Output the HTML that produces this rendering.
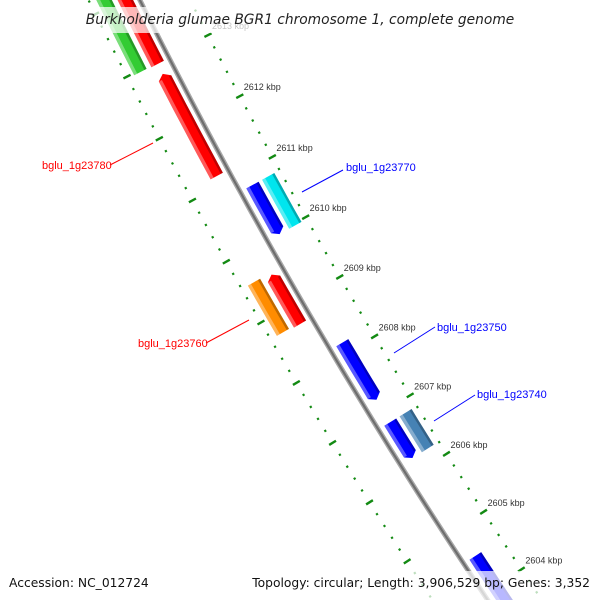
<!DOCTYPE html>
<html><head><meta charset="utf-8"><style>
html,body{margin:0;padding:0;background:#fff;width:600px;height:600px;overflow:hidden;}
svg{display:block;font-family:"Liberation Sans",sans-serif;overflow:hidden;}
</style></head><body>
<svg id="map" width="600" height="600" viewBox="0 0 600 600">
<g id="ruler"></g>
<g id="backbone"></g>
<g id="features"></g>
<g id="labels"></g>
<g font-size="11">
<line x1="110" y1="165" x2="153" y2="143" stroke="#f00"/>
<text x="42" y="169" fill="#f00">bglu_1g23780</text>
<line x1="302" y1="192" x2="343" y2="170" stroke="#00f"/>
<text x="346" y="171" fill="#00f">bglu_1g23770</text>
<line x1="206" y1="343" x2="249" y2="320" stroke="#f00"/>
<text x="138" y="347" fill="#f00">bglu_1g23760</text>
<line x1="394" y1="353" x2="435" y2="327" stroke="#00f"/>
<text x="437" y="331" fill="#00f">bglu_1g23750</text>
<line x1="434" y1="421" x2="475" y2="395" stroke="#00f"/>
<text x="477" y="398" fill="#00f">bglu_1g23740</text>
</g>
<rect x="84" y="7" width="432" height="26" fill="#fff" fill-opacity="0.72"/>
<text x="300" y="24" text-anchor="middle" font-size="13.8" font-style="italic" fill="#222" style="font-family:'DejaVu Sans',sans-serif">Burkholderia glumae BGR1 chromosome 1, complete genome</text>
<rect x="0" y="571" width="600" height="29" fill="#fff" fill-opacity="0.72"/>
<text x="9" y="587" font-size="12.3" fill="#111" style="font-family:'DejaVu Sans',sans-serif">Accession: NC_012724</text>
<text x="590" y="587" font-size="12.3" fill="#111" text-anchor="end" style="font-family:'DejaVu Sans',sans-serif">Topology: circular; Length: 3,906,529 bp; Genes: 3,352</text>
</svg>
<script>
const geneNames = ["g-green","g-red-top","g-red-big","g-orange","g-red-small","g-blue-1","g-cyan","g-blue-2","g-blue-3","g-steelblue","g-blue-4"];
const geneStarts = [2612.97,2612.96,2611.14,2608.72,2608.70,2609.97,2609.97,2607.20,2606.21,2606.21,2602.0];
const geneEnds = [2615.0,2615.0,2612.80,2609.55,2609.52,2610.78,2610.78,2608.16,2606.82,2606.82,2604.53];
const geneBands = ["farL","nearL","nearL","farL","nearL","nearR","farR","nearR","nearR","farR","nearR"];
const geneColors = ["#33cc33","#ff0000","#ff0000","#ff8c00","#ff0000","#0000ff","#00e5ee","#0000ff","#0000ff","#4682b4","#0000ff"];
const geneArrows = ["none","rev","rev","none","rev","fwd","none","fwd","fwd","none","fwd"];
const tickStart = 2602.0;
const tickEnd = 2615.0;
const tickLabels = [2604,2605,2606,2607,2608,2609,2610,2611,2612,2613];

const NS="http://www.w3.org/2000/svg";
const CX=5062.5, CY=-2453, R=5500, PHI0=152.14, DPK=0.7233;
function pt(kbp,r){const p=(PHI0+(kbp-2612)*DPK)*Math.PI/180;const rad=R-r;return [CX+rad*Math.cos(p),CY+rad*Math.sin(p)];}
const bands={nearL:[-20,-6],farL:[-39,-25],nearR:[7,21],farR:[25,39]};
function mk(tag,attrs,parent){const e=document.createElementNS(NS,tag);for(const k in attrs)e.setAttribute(k,attrs[k]);parent.appendChild(e);return e;}

const bb=document.getElementById('backbone');
let d="";for(let k=2615;k>=2602;k-=0.25){const p=pt(k,0);d+=(d?"L":"M")+p[0].toFixed(1)+","+p[1].toFixed(1);}
const b1=mk('path',{d:d,fill:'none',stroke:'#a8a8a8','stroke-width':5},bb);


const b2=mk('path',{d:d,fill:'none',stroke:'#6e6e6e','stroke-width':2.2},bb);



const rg=document.getElementById('ruler');
const rulerRs=[45,-46];
for(let i=0;Math.round((tickStart+i*0.2)*10)<=Math.round(tickEnd*10);i++){
  const k=tickStart+i*0.2;const major=Math.abs(k-Math.round(k))<0.01;
  for(const rr of rulerRs){
    const len=major?4:1.1;
    const a=pt(k,rr-len),b=pt(k,rr+len);
    const ln=mk('line',{x1:a[0],y1:a[1],x2:b[0],y2:b[1],stroke:'#138a13','stroke-width':major?2.4:2.2},rg);
    
    
  }
}
const lg=document.getElementById('labels');
tickLabels.forEach(k=>{const p=pt(k,45);
  const t=mk('text',{x:p[0]+4,y:p[1]-6,'font-size':9,fill:'#333'},lg);
  t.textContent=k+" kbp";
  
  });

const fg=document.getElementById('features');
function poly(pts){return pts.map(p=>p[0].toFixed(1)+","+p[1].toFixed(1)).join(" ");}
function side(a,b,r,n){const o=[];for(let i=0;i<=n;i++){o.push(pt(a+(b-a)*i/n,r));}return o;}
geneNames.forEach((nm,i)=>{
  const s=geneStarts[i],e=geneEnds[i],[r1,r2]=bands[geneBands[i]],ar=geneArrows[i];
  const al=5/69.4, rm=(r1+r2)/2;
  let lo=s,hi=e;
  if(ar==='fwd')lo=s+al; if(ar==='rev')hi=e-al;
  const n=Math.max(2,Math.ceil((hi-lo)*4));
  let pts=side(lo,hi,r1,n);
  if(ar==='rev')pts.push(pt(e,rm));
  pts=pts.concat(side(hi,lo,r2,n));
  if(ar==='fwd')pts.push(pt(s,rm));
  const g=mk('g',{},fg);
  
  
  mk('polygon',{points:poly(pts),fill:geneColors[i]},g);
  const l=side(lo,hi,r1,n).concat(side(hi,lo,r1+3.5,n));
  mk('polygon',{points:poly(l),fill:'#fff','fill-opacity':0.35},g);
  const dk=side(lo,hi,r2-2.5,n).concat(side(hi,lo,r2,n));
  mk('polygon',{points:poly(dk),fill:'#000','fill-opacity':0.25},g);
});
</script>
</body></html>
